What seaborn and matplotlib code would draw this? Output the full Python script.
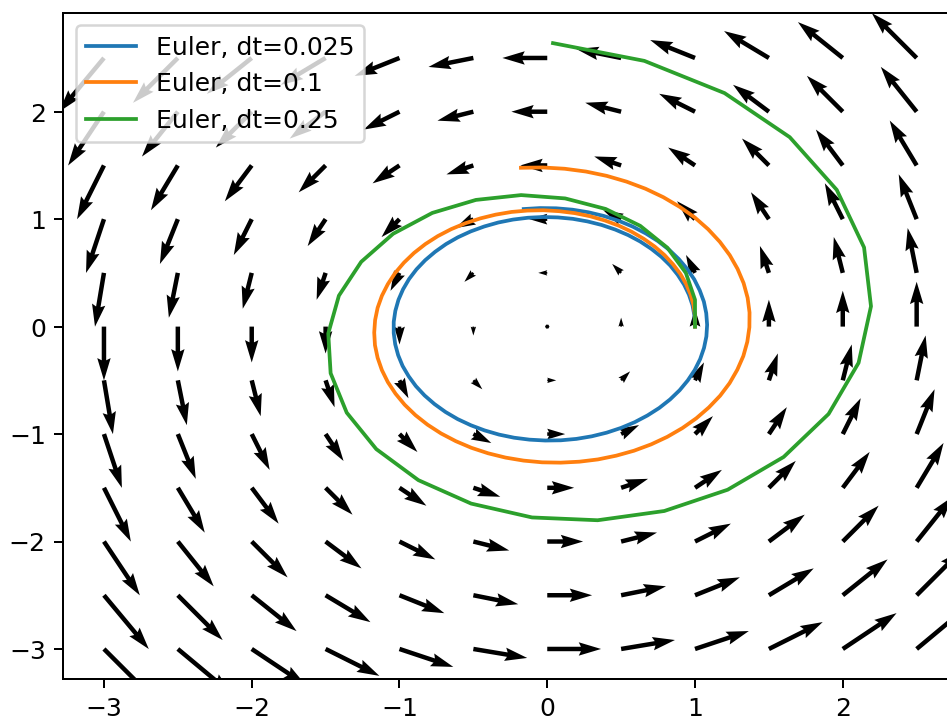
import numpy as np
import matplotlib
matplotlib.use("Agg")
import matplotlib.pyplot as plt
import seaborn as sns

# grid of arrow tails (same for both axes)
grid_x = [-3.0, -2.5, -2.0, -1.5, -1.0, -0.5, 0.0, 0.5, 1.0, 1.5, 2.0, 2.5]
grid_y = [-3.0, -2.5, -2.0, -1.5, -1.0, -0.5, 0.0, 0.5, 1.0, 1.5, 2.0, 2.5]
# horizontal arrow component per row (rows = grid_y), vertical per column (cols = grid_x)
arrow_u_by_row = [3.0, 2.5, 2.0, 1.5, 1.0, 0.5, 0.0, -0.5, -1.0, -1.5, -2.0, -2.5]
arrow_v_by_col = [-3.0, -2.5, -2.0, -1.5, -1.0, -0.5, 0.0, 0.5, 1.0, 1.5, 2.0, 2.5]

# Euler trajectories
labels = ["Euler, dt=0.025", "Euler, dt=0.1", "Euler, dt=0.25"]
colors = ["#1f77b4", "#ff7f0e", "#2ca02c"]

blue_x = [1.0, 0.996, 0.983, 0.959, 0.926, 0.883, 0.832, 0.772, 0.704, 0.629,
          0.547, 0.460, 0.368, 0.272, 0.173, 0.072, -0.029, -0.131, -0.232, -0.331,
          -0.426, -0.518, -0.605, -0.685, -0.759, -0.826, -0.885, -0.935, -0.976, -1.007,
          -1.028, -1.039, -1.039, -1.029, -1.009, -0.979, -0.938, -0.889, -0.830, -0.763,
          -0.688, -0.606, -0.517, -0.424, -0.326, -0.224, -0.120, -0.014, 0.092, 0.197,
          0.301, 0.402, 0.499, 0.591, 0.678, 0.758, 0.831, 0.896, 0.951, 0.998,
          1.035, 1.061, 1.077, 1.082, 1.076, 1.060, 1.032, 0.995, 0.947, 0.890,
          0.824, 0.749, 0.667, 0.578, 0.483, 0.382, 0.278, 0.171, 0.061, -0.049,
          -0.159]
blue_y = [0.0, 0.100, 0.199, 0.297, 0.391, 0.482, 0.569, 0.650, 0.724, 0.792,
          0.852, 0.903, 0.946, 0.979, 1.003, 1.016, 1.020, 1.013, 0.996, 0.969,
          0.932, 0.886, 0.831, 0.768, 0.696, 0.618, 0.533, 0.443, 0.347, 0.249,
          0.147, 0.044, -0.060, -0.164, -0.266, -0.366, -0.462, -0.554, -0.641, -0.721,
          -0.795, -0.861, -0.918, -0.966, -1.005, -1.034, -1.052, -1.060, -1.058, -1.045,
          -1.021, -0.987, -0.943, -0.890, -0.827, -0.757, -0.678, -0.592, -0.501, -0.404,
          -0.302, -0.198, -0.091, 0.017, 0.125, 0.232, 0.337, 0.439, 0.537, 0.629,
          0.716, 0.796, 0.867, 0.931, 0.985, 1.030, 1.064, 1.088, 1.101, 1.103,
          1.094]

orange_x = [1.0, 1.0, 0.990, 0.970, 0.940, 0.901, 0.851, 0.794, 0.727, 0.653,
            0.571, 0.483, 0.389, 0.290, 0.187, 0.082, -0.026, -0.134, -0.242, -0.349,
            -0.453, -0.554, -0.650, -0.741, -0.825, -0.902, -0.970, -1.030, -1.079, -1.119,
            -1.148, -1.165, -1.171, -1.166, -1.148, -1.119, -1.079, -1.027, -0.965, -0.892,
            -0.810, -0.719, -0.619, -0.513, -0.400, -0.282, -0.160, -0.035, 0.091, 0.218,
            0.343, 0.467, 0.587, 0.703, 0.812, 0.915, 1.009, 1.094, 1.170, 1.234,
            1.286, 1.327, 1.354, 1.368, 1.369, 1.356, 1.329, 1.288, 1.235, 1.168,
            1.089, 0.999, 0.897, 0.786, 0.665, 0.537, 0.402, 0.262, 0.118, -0.029,
            -0.178]
orange_y = [0.0, 0.100, 0.200, 0.299, 0.396, 0.490, 0.580, 0.665, 0.745, 0.817,
            0.883, 0.940, 0.988, 1.027, 1.056, 1.074, 1.083, 1.080, 1.067, 1.042,
            1.007, 0.962, 0.907, 0.842, 0.768, 0.685, 0.595, 0.498, 0.395, 0.287,
            0.175, 0.061, -0.056, -0.173, -0.290, -0.405, -0.516, -0.624, -0.727, -0.824,
            -0.913, -0.994, -1.066, -1.128, -1.179, -1.219, -1.247, -1.263, -1.266, -1.257,
            -1.236, -1.201, -1.155, -1.096, -1.026, -0.944, -0.853, -0.752, -0.643, -0.526,
            -0.402, -0.274, -0.141, -0.006, 0.131, 0.268, 0.404, 0.537, 0.665, 0.789,
            0.906, 1.015, 1.114, 1.204, 1.283, 1.349, 1.403, 1.443, 1.469, 1.481,
            1.478]

green_x = [1.0, 1.0, 0.938, 0.813, 0.629, 0.395, 0.121, -0.177, -0.483, -0.778, -1.043,
           -1.259, -1.410, -1.482, -1.466, -1.357, -1.157, -0.872, -0.515, -0.103, 0.341,
           0.792, 1.221, 1.600, 1.904, 2.107, 2.191, 2.144, 1.959, 1.641, 1.200, 0.657, 0.039]
green_y = [0.0, 0.25, 0.5, 0.734, 0.938, 1.095, 1.193, 1.224, 1.179, 1.058, 0.864,
           0.603, 0.288, -0.064, -0.434, -0.801, -1.140, -1.429, -1.647, -1.776, -1.802,
           -1.716, -1.518, -1.213, -0.813, -0.337, 0.189, 0.737, 1.273, 1.763, 2.173, 2.473, 2.638]

fig = plt.figure(figsize=(947.4 / 180, 718.4 / 180), dpi=180)
ax = fig.add_axes([0.06684, 0.0539, 0.9436, 0.9276])

# vector field
X, Y = np.meshgrid(grid_x, grid_y)
U = np.tile(np.array(arrow_u_by_row)[:, None], (1, len(grid_x)))
V = np.tile(np.array(arrow_v_by_col)[None, :], (len(grid_y), 1))
ax.quiver(X, Y, U, V)

# trajectories
trajs = [(blue_x, blue_y), (orange_x, orange_y), (green_x, green_y)]
for (tx, ty), lab, col in zip(trajs, labels, colors):
    sns.lineplot(x=tx, y=ty, sort=False, estimator=None, color=col, label=lab,
                 linewidth=1.5, ax=ax)

ax.set_xlim(-3.275, 2.775)
ax.set_ylim(-3.282, 2.9195)
ax.set_xticks([-3, -2, -1, 0, 1, 2])
ax.set_yticks([-3, -2, -1, 0, 1, 2])
ax.legend(loc="upper left")

fig.savefig("out.png", dpi=180)
